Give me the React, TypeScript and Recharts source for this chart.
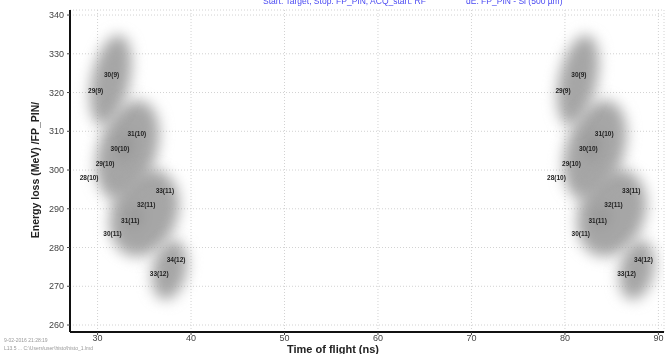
import { ScatterChart, Scatter, XAxis, YAxis, CartesianGrid } from 'recharts';

const xTicks = [30, 40, 50, 60, 70, 80, 90];
const yTicks = [260, 270, 280, 290, 300, 310, 320, 330, 340];

// centres of the gray clusters (two identical groups, 50 ns apart)
const blobX = [31.4, 33.2, 35.0, 37.7, 81.4, 83.2, 85.0, 87.7];
const blobY = [323.2, 305.2, 288.9, 274.2, 323.2, 305.2, 288.9, 274.2];

// isotope tags drawn inside the clusters
const tagX = [
  31.5, 29.8, 34.2, 32.4, 30.8, 29.1, 37.2, 35.2, 33.5, 31.6, 38.4, 36.6,
  81.5, 79.8, 84.2, 82.5, 80.7, 79.1, 87.1, 85.2, 83.5, 81.7, 88.4, 86.6,
];
const tagY = [
  324.7, 320.6, 309.5, 305.6, 301.7, 298.1, 294.8, 291.0, 287.1, 283.7, 277.0, 273.3,
  324.7, 320.6, 309.5, 305.6, 301.7, 298.1, 294.8, 291.0, 287.1, 283.7, 277.0, 273.3,
];
const tagText = [
  '30(9)', '29(9)', '31(10)', '30(10)', '29(10)', '28(10)',
  '33(11)', '32(11)', '31(11)', '30(11)', '34(12)', '33(12)',
  '30(9)', '29(9)', '31(10)', '30(10)', '29(10)', '28(10)',
  '33(11)', '32(11)', '31(11)', '30(11)', '34(12)', '33(12)',
];

// pixel shape of each cluster (style only)
const blobShape = [
  { rx: 19, ry: 46, a: 12, core: null },
  { rx: 29, ry: 51, a: 18, core: { dx: -3, dy: -2, rx: 5, ry: 14 } },
  { rx: 33, ry: 45, a: 22, core: { dx: -7, dy: 8, rx: 5, ry: 10 } },
  { rx: 17, ry: 30, a: 12, core: null },
];

const blobs = blobX.map((x, i) => ({ x, y: blobY[i], id: i }));
const tags = tagX.map((x, i) => ({ x, y: tagY[i], name: tagText[i] }));

const font = '"Liberation Sans", Arial, sans-serif';

function Blob(props: any) {
  const { cx, cy, payload } = props;
  const s = blobShape[payload.id % 4];
  const fid = `blur-${payload.id}`;
  return (
    <g style={{ mixBlendMode: 'darken' }}>
      <defs>
        <filter id={fid} x='-80%' y='-80%' width='260%' height='260%'>
          <feGaussianBlur stdDeviation='7' />
        </filter>
      </defs>
      <g transform={`translate(${cx},${cy}) rotate(${s.a})`} filter={`url(#${fid})`}>
        <ellipse cx={0} cy={0} rx={s.rx} ry={s.ry} fill='#a6a6a6' />
        {s.core && (
          <ellipse cx={s.core.dx} cy={s.core.dy} rx={s.core.rx} ry={s.core.ry} fill='#8e8e8e' />
        )}
      </g>
    </g>
  );
}

function Tag(props: any) {
  const { cx, cy, payload } = props;
  return (
    <text
      x={cx}
      y={cy}
      textAnchor='middle'
      dominantBaseline='central'
      fontSize={6.5}
      fontFamily={font}
      fontWeight='bold'
      fill='#222'
    >
      {payload.name}
    </text>
  );
}

export default function App() {
  return (
    <div style={{ position: 'fixed', left: 0, top: 0, width: 666, height: 354, background: '#fff', fontFamily: font }}>
      <ScatterChart width={666} height={354} margin={{ top: 10, right: 2, left: 0, bottom: 0 }}>
        <CartesianGrid stroke='#d2d2d2' strokeDasharray='1 2' />
        <XAxis
          dataKey='x'
          type='number'
          domain={[27.05, 90.6]}
          ticks={xTicks}
          allowDataOverflow
          height={22}
          tickSize={3}
          tickMargin={0}
          tick={{ fontSize: 9, fill: '#444', fontFamily: font }}
          axisLine={{ stroke: '#111', strokeWidth: 2 }}
          tickLine={{ stroke: '#444' }}
        />
        <XAxis
          xAxisId='top'
          orientation='top'
          dataKey='x'
          type='number'
          domain={[27.05, 90.6]}
          ticks={xTicks}
          allowDataOverflow
          height={0}
          mirror
          tick={false}
          tickSize={3}
          axisLine={{ stroke: '#222', strokeWidth: 1.5 }}
          tickLine={{ stroke: '#333' }}
        />
        <YAxis
          dataKey='y'
          type='number'
          domain={[258.2, 341.3]}
          ticks={yTicks}
          allowDataOverflow
          width={70}
          tickSize={3}
          tickMargin={3}
          tick={{ fontSize: 9, fill: '#444', fontFamily: font }}
          axisLine={{ stroke: '#111', strokeWidth: 2 }}
          tickLine={{ stroke: '#444' }}
        />
        <Scatter data={blobs} shape={Blob} isAnimationActive={false} />
        <Scatter data={tags} shape={Tag} isAnimationActive={false} />
      </ScatterChart>

      <div style={{ position: 'absolute', left: 263, top: -4, fontSize: 8.5, color: '#4a4af2', whiteSpace: 'nowrap' }}>
        Start: Target; Stop: FP_PIN; ACQ_start: RF
      </div>
      <div style={{ position: 'absolute', left: 466, top: -4, fontSize: 8.5, color: '#4a4af2', whiteSpace: 'nowrap' }}>
        dE: FP_PIN - Si (500 µm)
      </div>
      <div
        style={{
          position: 'absolute',
          left: 35,
          top: 170,
          transform: 'translate(-50%, -50%) rotate(-90deg)',
          fontSize: 10.5,
          fontWeight: 'bold',
          color: '#222',
          whiteSpace: 'nowrap',
        }}
      >
        Energy loss (MeV) /FP_PIN/
      </div>
      <div
        style={{
          position: 'absolute',
          left: 333,
          top: 349,
          transform: 'translate(-50%, -50%)',
          fontSize: 11,
          fontWeight: 'bold',
          color: '#222',
          whiteSpace: 'nowrap',
        }}
      >
        Time of flight (ns)
      </div>
      <div style={{ position: 'absolute', left: 4, top: 336, fontSize: 5, color: '#999', whiteSpace: 'nowrap', lineHeight: '8px' }}>
        9-02-2016 21:28:19
        <br />
        L13.5 ... C:\Users\user\histo\histo_1.lmd
      </div>
    </div>
  );
}
